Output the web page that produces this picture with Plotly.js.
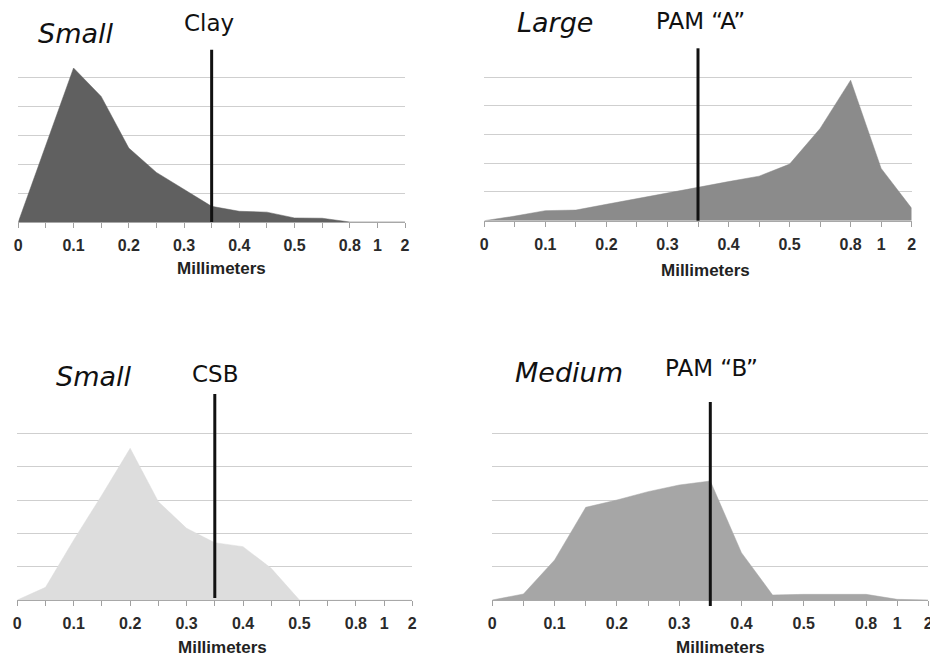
<!DOCTYPE html>
<html>
<head>
<meta charset="utf-8">
<script src="https://cdn.plot.ly/plotly-3.0.1.min.js"></script>
<style>html,body{margin:0;padding:0;background:#fff;}#chart{width:930px;height:658px;}</style>
</head>
<body>
<div id="chart"></div>
<script>
// Categories (millimeters), one per x position
const categories = ['0','0.05','0.1','0.15','0.2','0.25','0.3','0.35','0.4','0.45','0.5','0.6','0.8','1','2'];
const tickLabels = ['0','0.1','0.2','0.3','0.4','0.5','0.8','1','2'];
const tickCategories = ['0','0.1','0.2','0.3','0.4','0.5','0.8','1','2'];
const markerCategory = '0.35';

// Series values (relative amount)
const clay = [0, 2.65, 5.31, 4.33, 2.55, 1.71, 1.11, 0.54, 0.37, 0.34, 0.14, 0.13, 0, 0, 0];
const pamA = [0, 0.16, 0.35, 0.37, 0.57, 0.76, 0.96, 1.16, 1.36, 1.55, 1.97, 3.21, 4.89, 1.82, 0.43];
const csb  = [0, 0.38, 1.8, 3.15, 4.55, 2.95, 2.15, 1.72, 1.6, 0.95, 0, 0, 0, 0, 0];
const pamB = [0, 0.18, 1.2, 2.78, 3.0, 3.25, 3.45, 3.57, 1.42, 0.15, 0.17, 0.17, 0.17, 0.02, 0];

const sizeLabels = ['Small', 'Large', 'Small', 'Medium'];
const materialLabels = ['Clay', 'PAM \u201cA\u201d', 'CSB', 'PAM \u201cB\u201d'];
const axisLabel = 'Millimeters';

const idx = c => categories.indexOf(c);
const xs = categories.map((c, i) => i);
const W = 930, H = 658;

const panels = [
  {data: clay, color: '#606060', x: [18.3, 405], y: [222, 48], grid: [1,2,3,4,5],
   line: [-0.0, 0.99], size: [75, 34], mat: [209, 23], mm: [221, 269]},
  {data: pamA, color: '#8b8b8b', x: [484.3, 911.7], y: [220.7, 48.3], grid: [1,2,3,4,5,6],
   line: [0.0, 1.0], size: [555, 22], mat: [700, 21], mm: [705, 270]},
  {data: csb, color: '#dddddd', x: [17.3, 412.3], y: [600, 400], grid: [1,2,3,4,5,6],
   line: [0.01, 1.03], size: [93, 376], mat: [215, 374], mm: [222, 647]},
  {data: pamB, color: '#a6a6a6', x: [492.3, 928.3], y: [600, 400], grid: [1,2,3,4,5,6],
   line: [-0.03, 0.99], size: [569, 372], mat: [711, 368], mm: [720, 647]}
];

const traces = [];
const layout = {
  width: W, height: H,
  margin: {l: 0, r: 0, t: 0, b: 0},
  paper_bgcolor: '#ffffff', plot_bgcolor: 'rgba(0,0,0,0)',
  showlegend: false,
  shapes: [], annotations: []
};

panels.forEach((p, k) => {
  const n = k === 0 ? '' : String(k + 1);
  traces.push({
    x: xs, y: p.data, type: 'scatter', mode: 'lines',
    fill: 'tozeroy', fillcolor: p.color,
    line: {width: 0.5, color: p.color},
    xaxis: 'x' + n, yaxis: 'y' + n, hoverinfo: 'skip'
  });
  layout['xaxis' + n] = {
    domain: [p.x[0] / W, p.x[1] / W],
    anchor: 'y' + n,
    range: [0, categories.length - 1],
    tickmode: 'array',
    tickvals: tickCategories.map(idx),
    ticktext: tickLabels,
    ticks: 'outside', ticklen: 5, tickcolor: '#a0a0a0', tickwidth: 1,
    minor: {dtick: 1, tick0: 0, ticks: 'outside', ticklen: 5, tickcolor: '#a0a0a0', showgrid: false},
    showline: true, linecolor: '#a8a8a8', linewidth: 1,
    showgrid: false, zeroline: false,
    tickfont: {family: 'Liberation Sans, Arial, sans-serif', size: 16, color: '#2a2a2a', weight: 'bold'},
    ticklabelstandoff: 4,
    ticklabeloverflow: 'allow',
    fixedrange: true
  };
  layout['yaxis' + n] = {
    domain: [1 - p.y[0] / H, 1 - p.y[1] / H],
    anchor: 'x' + n,
    range: [0, 6],
    tickmode: 'array', tickvals: p.grid,
    showticklabels: false, ticks: '',
    showgrid: true, gridcolor: '#cfcfcf', gridwidth: 1,
    zeroline: false, showline: false, fixedrange: true
  };
  layout.shapes.push({
    type: 'line', xref: 'x' + n, yref: 'y' + n + ' domain',
    x0: idx(markerCategory), x1: idx(markerCategory), y0: p.line[0], y1: p.line[1],
    line: {color: '#111111', width: 3}
  });
  layout.annotations.push({
    xref: 'paper', yref: 'paper', x: p.size[0] / W, y: 1 - p.size[1] / H,
    xanchor: 'center', yanchor: 'middle', showarrow: false,
    text: '<i>' + sizeLabels[k] + '</i>',
    font: {family: 'DejaVu Sans, sans-serif', size: 27, color: '#111111'}
  });
  layout.annotations.push({
    xref: 'paper', yref: 'paper', x: p.mat[0] / W, y: 1 - p.mat[1] / H,
    xanchor: 'center', yanchor: 'middle', showarrow: false,
    text: materialLabels[k],
    font: {family: 'DejaVu Sans, sans-serif', size: 23, color: '#111111'}
  });
  layout.annotations.push({
    xref: 'paper', yref: 'paper', x: p.mm[0] / W, y: 1 - p.mm[1] / H,
    xanchor: 'center', yanchor: 'middle', showarrow: false,
    text: '<b>' + axisLabel + '</b>',
    font: {family: 'Liberation Sans, Arial, sans-serif', size: 17, color: '#222222'}
  });
});

Plotly.newPlot('chart', traces, layout, {displayModeBar: false, staticPlot: true});
</script>
</body>
</html>
